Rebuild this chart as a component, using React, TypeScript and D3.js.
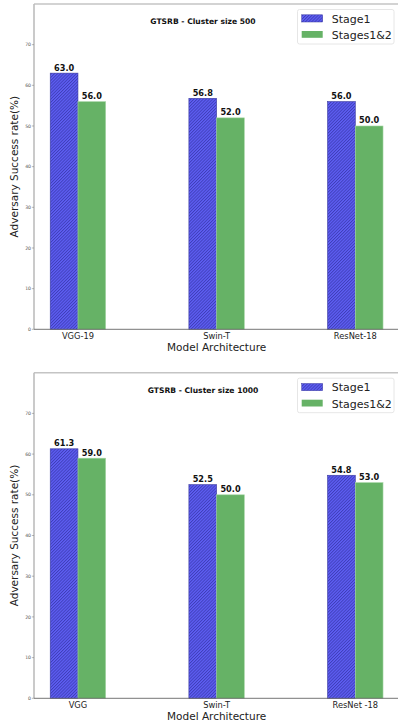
import React from "react";
import * as d3 from "d3";

const categoriesA = ["VGG-19", "Swin-T", "ResNet-18"];
const stage1A = [63.0, 56.8, 56.0];
const stages12A = [56.0, 52.0, 50.0];

const categoriesB = ["VGG", "Swin-T", "ResNet -18"];
const stage1B = [61.3, 52.5, 54.8];
const stages12B = [59.0, 50.0, 53.0];

const yTicks = [0, 10, 20, 30, 40, 50, 60, 70];
const titles = ["GTSRB - Cluster size 500", "GTSRB - Cluster size 1000"];
const legendLabels = ["Stage1", "Stages1&2"];

const W = 398;
const H = 726;
const LEFT = 34;
const RIGHT = 398;
const BAR_W = 0.2;
const BLUE = "#5f5ff4";
const GREEN = "#66b266";
const FONT = "'DejaVu Sans', sans-serif";

type PanelProps = {
  top: number;
  bottom: number;
  categories: string[];
  s1: number[];
  s2: number[];
  title: string;
};

function Panel({ top, bottom, categories, s1, s2, title }: PanelProps) {
  const x = d3.scaleLinear().domain([-0.317, 2.308]).range([LEFT, RIGHT]);
  const y = d3.scaleLinear().domain([0, 80]).range([bottom, top]);
  const bw = x(BAR_W) - x(0);
  const fmt = d3.format(".1f");
  const midY = (top + bottom) / 2;
  return (
    <g>
      {categories.map((c, i) => (
        <g key={c}>
          <rect
            x={x(i) - bw}
            y={y(s1[i])}
            width={bw}
            height={y(0) - y(s1[i])}
            fill="url(#hatch)"
            stroke="#3a3aa0"
            strokeWidth={0.6}
          />
          <rect
            x={x(i)}
            y={y(s2[i])}
            width={bw}
            height={y(0) - y(s2[i])}
            fill={GREEN}
            stroke="#a9d8a9"
            strokeWidth={0.6}
          />
          <text
            x={x(i) - bw / 2}
            y={y(s1[i]) - 2.5}
            textAnchor="middle"
            fontFamily={FONT}
            fontWeight="bold"
            fontSize={8.2}
            fill="#111"
          >
            {fmt(s1[i])}
          </text>
          <text
            x={x(i) + bw / 2}
            y={y(s2[i]) - 2.5}
            textAnchor="middle"
            fontFamily={FONT}
            fontWeight="bold"
            fontSize={8.2}
            fill="#111"
          >
            {fmt(s2[i])}
          </text>
          <text
            x={x(i)}
            y={bottom + 9.8}
            textAnchor="middle"
            fontFamily={FONT}
            fontSize={8.3}
            fill="#222"
          >
            {c}
          </text>
        </g>
      ))}
      <line x1={LEFT} x2={RIGHT} y1={top} y2={top} stroke="#c4c4c4" strokeWidth={1.4} />
      <line x1={LEFT} x2={LEFT} y1={top} y2={bottom} stroke="#bdbdbd" strokeWidth={1.6} />
      <line x1={LEFT} x2={RIGHT} y1={bottom} y2={bottom} stroke="#666" strokeWidth={0.9} />
      {yTicks.map((t) => (
        <g key={t}>
          <line x1={LEFT - 2.2} x2={LEFT} y1={y(t)} y2={y(t)} stroke="#777" strokeWidth={0.5} />
          <text
            x={LEFT - 3}
            y={y(t) + 1.6}
            textAnchor="end"
            fontFamily={FONT}
            fontSize={4.6}
            fill="#555"
          >
            {t}
          </text>
        </g>
      ))}
      <text
        x={203}
        y={top + 20}
        textAnchor="middle"
        fontFamily={FONT}
        fontWeight="bold"
        fontSize={7.6}
        fill="#111"
      >
        {title}
      </text>
      <rect
        x={297.5}
        y={top + 5.5}
        width={96.5}
        height={34.5}
        rx={2}
        fill="#fff"
        stroke="#e0e0e0"
        strokeWidth={0.8}
      />
      <rect x={301.7} y={top + 10.8} width={21} height={7.2} fill="url(#hatch)" stroke="#3a3aa0" strokeWidth={0.5} />
      <rect x={301.7} y={top + 27} width={21} height={6.8} fill={GREEN} />
      <text x={331.7} y={top + 18.6} fontFamily={FONT} fontSize={11} fill="#222">
        {legendLabels[0]}
      </text>
      <text x={331.7} y={top + 34.8} fontFamily={FONT} fontSize={11} fill="#222">
        {legendLabels[1]}
      </text>
      <text
        x={x(1)}
        y={bottom + 22}
        textAnchor="middle"
        fontFamily={FONT}
        fontSize={10.5}
        fill="#222"
      >
        Model Architecture
      </text>
      <text
        transform={`translate(18,${midY}) rotate(-90)`}
        textAnchor="middle"
        fontFamily={FONT}
        fontSize={10.5}
        fill="#222"
      >
        Adversary Success rate(%)
      </text>
    </g>
  );
}

export default function App() {
  return (
    <svg
      width={W}
      height={H}
      viewBox={`0 0 ${W} ${H}`}
      style={{ position: "absolute", left: 0, top: 0, background: "#fff" }}
    >
      <defs>
        <pattern
          id="hatch"
          patternUnits="userSpaceOnUse"
          width={2.2}
          height={2.2}
          patternTransform="rotate(45)"
        >
          <rect width={2.2} height={2.2} fill={BLUE} />
          <line x1={0.5} y1={0} x2={0.5} y2={2.2} stroke="#3434a8" strokeWidth={0.7} />
        </pattern>
      </defs>
      <rect width={W} height={H} fill="#fff" />
      <Panel top={4} bottom={329.3} categories={categoriesA} s1={stage1A} s2={stages12A} title={titles[0]} />
      <Panel top={372.7} bottom={698.3} categories={categoriesB} s1={stage1B} s2={stages12B} title={titles[1]} />
    </svg>
  );
}
